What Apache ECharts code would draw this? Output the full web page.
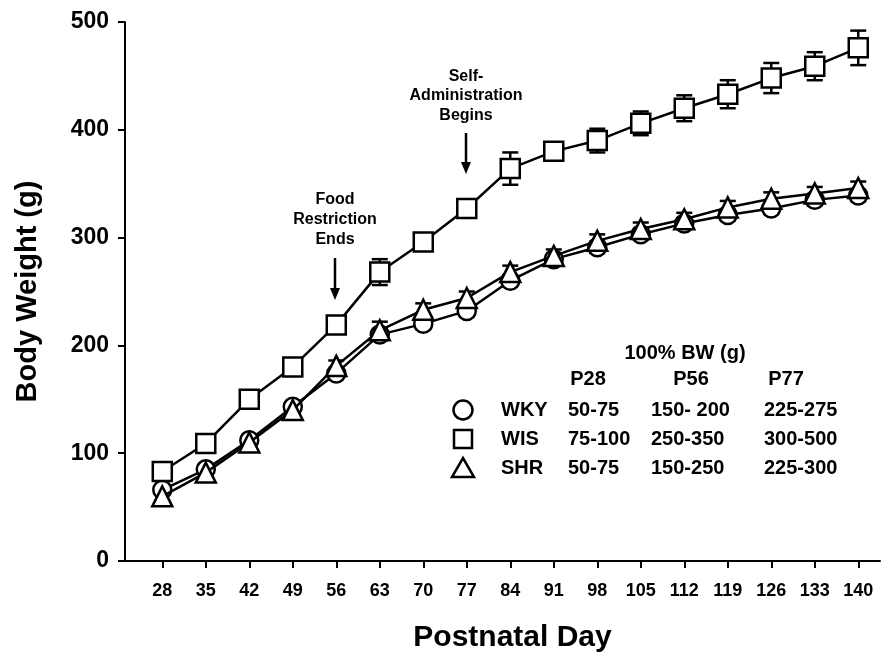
<!DOCTYPE html>
<html><head><meta charset="utf-8">
<script src="https://cdn.jsdelivr.net/npm/echarts@6/dist/echarts.min.js"></script>
<style>html,body{margin:0;padding:0;background:#fff}#c{width:885px;height:658px}</style>
</head><body><div id="c"></div>
<script>
const days = [28,35,42,49,56,63,70,77,84,91,98,105,112,119,126,133,140];
const wky = [66,85,112,143,174,210,220,232,260,280,291,303,313,321,327,335,339];
const wkyErr = [4,4,4,4,4,5,5,5,5,5,5,5,5,5,5,5,5];
const wis = [83,109,150,180,219,268,296,327,364,380,390,406,420,433,448,459,476];
const wisErr = [3,3,3,3,4,12,6,6,15,7,11,11,12,13,14,13,16];
const shr = [60,82,110,140,181,214,233,244,268,283,297,308,317,328,336,341,346];
const shrErr = [4,4,4,4,5,8,6,6,6,6,6,6,6,6,6,6,6];
const yTicks = [0,100,200,300,400,500];
const tableTitle = '100% BW (g)';
const tableHeads = ['P28','P56','P77'];
const tableNames = ['WKY','WIS','SHR'];
const tableP28 = ['50-75','75-100','50-75'];
const tableP56 = ['150- 200','250-350','150-250'];
const tableP77 = ['225-275','300-500','225-300'];

const FONT = "'Liberation Sans', Arial, sans-serif";
const chart = echarts.init(document.getElementById('c'), null, {renderer:'canvas'});

function errSeries(vals, errs, z) {
  return {
    type:'custom', silent:true, z:z,
    data: days.map((d,i)=>[d, vals[i]-errs[i], vals[i]+errs[i]]),
    encode:{x:0, y:[1,2]},
    renderItem(params, api) {
      const x = api.value(0);
      const lo = api.coord([x, api.value(1)]);
      const hi = api.coord([x, api.value(2)]);
      const w = 8;
      const st = {stroke:'#000', lineWidth:2.5};
      return {type:'group', children:[
        {type:'line', shape:{x1:lo[0],y1:lo[1],x2:hi[0],y2:hi[1]}, style:st},
        {type:'line', shape:{x1:lo[0]-w,y1:lo[1],x2:lo[0]+w,y2:lo[1]}, style:st},
        {type:'line', shape:{x1:hi[0]-w,y1:hi[1],x2:hi[0]+w,y2:hi[1]}, style:st}
      ]};
    }
  };
}
function lineSeries(name, vals, symbol, size, z) {
  return {
    type:'line', name, z, symbol, symbolSize:size, showAllSymbol:true,
    data: days.map((d,i)=>[d, vals[i]]),
    lineStyle:{color:'#000', width:2.5},
    itemStyle:{color:'#fff', borderColor:'#000', borderWidth:2.5},
    emphasis:{disabled:true}, animation:false
  };
}

const g = [];
function txt(text, x, y, size, align) {
  g.push({type:'text', x, y, style:{text, font:'bold '+size+'px '+FONT, fill:'#000', textAlign:align||'left', textVerticalAlign:'middle'}});
}
function arrow(x, y1, y2) {
  g.push({type:'line', shape:{x1:x,y1:y1,x2:x,y2:y2-8}, style:{stroke:'#000', lineWidth:2.5}});
  g.push({type:'polygon', shape:{points:[[x-5,y2-12],[x+5,y2-12],[x,y2]]}, style:{fill:'#000'}});
}
// annotations
txt('Food', 335, 200, 16, 'center');
txt('Restriction', 335, 220, 16, 'center');
txt('Ends', 335, 240, 16, 'center');
arrow(335, 258, 300);
txt('Self-', 466, 77, 16, 'center');
txt('Administration', 466, 96, 16, 'center');
txt('Begins', 466, 116, 16, 'center');
arrow(466, 133, 174);
// table
txt(tableTitle, 685, 353, 20, 'center');
const colX = [588, 691, 786];
tableHeads.forEach((h,i)=>txt(h, colX[i], 379, 20, 'center'));
const rowY = [410, 439, 468];
tableNames.forEach((n,i)=>{
  txt(n, 501, rowY[i], 20, 'left');
  txt(tableP28[i], 568, rowY[i], 20, 'left');
  txt(tableP56[i], 651, rowY[i], 20, 'left');
  txt(tableP77[i], 764, rowY[i], 20, 'left');
});
const sst = {fill:'#fff', stroke:'#000', lineWidth:2.5};
g.push({type:'circle', shape:{cx:463, cy:rowY[0], r:9.5}, style:sst});
g.push({type:'rect', shape:{x:454, y:rowY[1]-9, width:18, height:18}, style:sst});
g.push({type:'polygon', shape:{points:[[452,rowY[2]+9],[474,rowY[2]+9],[463,rowY[2]-10]]}, style:sst});

chart.setOption({
  animation:false,
  backgroundColor:'#fff',
  grid:{left:125, right:5, top:22, bottom:97, containLabel:false, outerBoundsMode:'none'},
  xAxis:{
    type:'value', min:22, max:143.5,
    axisLine:{show:true, onZero:false, lineStyle:{color:'#000', width:2}},
    axisTick:{show:true, customValues:days, length:7, lineStyle:{color:'#000', width:2}},
    axisLabel:{customValues:days, margin:21, fontSize:18, fontWeight:'bold', color:'#000', fontFamily:FONT},
    splitLine:{show:false},
    name:'Postnatal Day', nameLocation:'middle', nameGap:62,
    nameTextStyle:{fontSize:30, fontWeight:'bold', color:'#000', fontFamily:FONT, padding:[0,0,0,20]}
  },
  yAxis:{
    type:'value', min:0, max:500, interval:100,
    axisLine:{show:true, lineStyle:{color:'#000', width:2}},
    axisTick:{show:true, length:7, lineStyle:{color:'#000', width:2}},
    axisLabel:{margin:16, fontSize:23, fontWeight:'bold', color:'#000', fontFamily:FONT,
      formatter:v=>yTicks.includes(v)?String(v):''},
    splitLine:{show:false},
    name:'Body Weight (g)', nameLocation:'middle', nameGap:83, nameRotate:90,
    nameTextStyle:{fontSize:29, fontWeight:'bold', color:'#000', fontFamily:FONT}
  },
  series:[
    errSeries(wky, wkyErr, 1),
    errSeries(shr, shrErr, 1),
    errSeries(wis, wisErr, 1),
    lineSeries('WKY', wky, 'circle', 18, 3),
    lineSeries('SHR', shr, 'triangle', 20, 4),
    lineSeries('WIS', wis, 'rect', 19, 5)
  ],
  graphic:g
});
</script></body></html>
